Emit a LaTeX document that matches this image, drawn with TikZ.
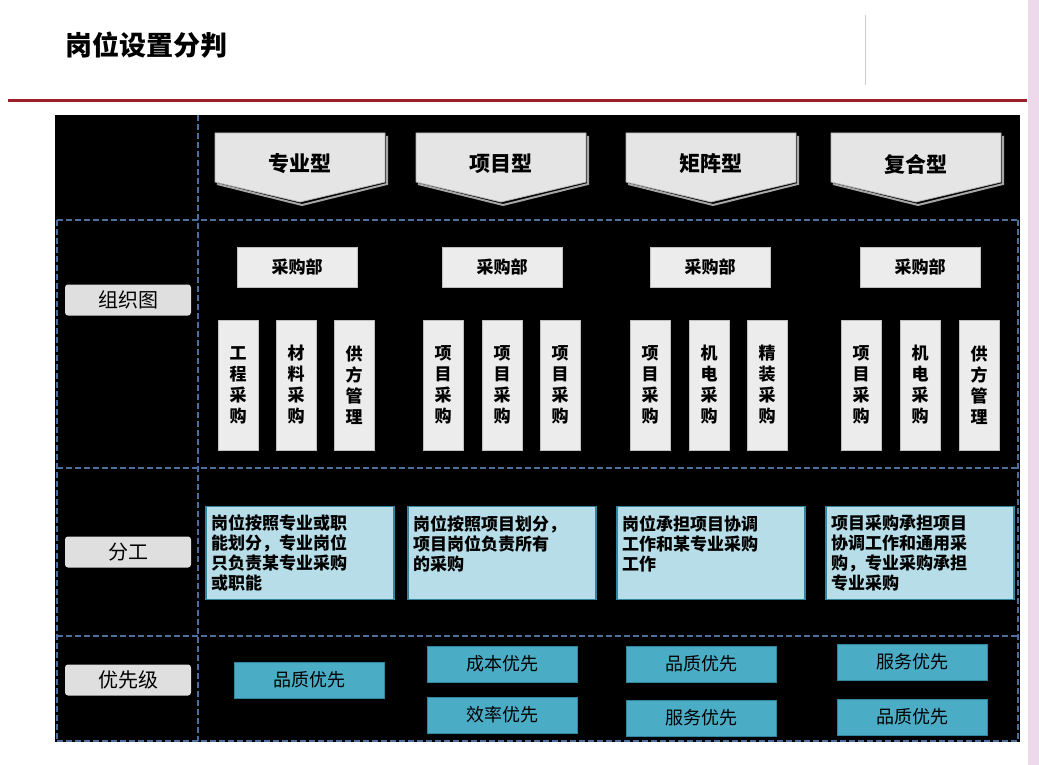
\documentclass[tikz,border=0pt]{standalone}
\usepackage{fontspec}
\setmainfont{Noto Sans CJK SC}
\newcommand\cjkb{\bfseries}
\definecolor{redline}{RGB}{160,30,40}
\definecolor{taskfill}{RGB}{183,222,232}
\definecolor{tealdark}{RGB}{49,133,156}
\definecolor{prioful}{RGB}{75,172,198}
\definecolor{dashc}{RGB}{79,110,160}
\begin{document}
\begin{tikzpicture}[x=1pt,y=-1pt,
  dashln/.style={draw=dashc, line width=1.6pt, dash pattern=on 6pt off 3pt},
  hdr/.style={fill=gray!20, draw=gray!60, line width=0.8pt},
  dept/.style={fill=gray!15, draw=gray!50, minimum width=120pt, minimum height=40pt, inner sep=0pt, font=\cjkb\fontsize{17}{17}\selectfont},
  vbox/.style={fill=gray!15, draw=gray!50, minimum width=40pt, minimum height=130pt, inner sep=0pt, align=center, font=\cjkb\fontsize{17}{21}\selectfont},
  lbl/.style={fill=gray!25, rounded corners=3pt, minimum width=126pt, minimum height=31pt, inner sep=0pt, font=\fontsize{20}{20}\selectfont},
  task/.style={fill=taskfill, draw=tealdark, line width=1.2pt, minimum width=188pt, minimum height=93pt, inner sep=4pt, align=left, text width=178pt, font=\cjkb\fontsize{17}{20}\selectfont},
  prio/.style={fill=prioful, draw=tealdark, line width=1pt, minimum width=150pt, minimum height=36pt, inner sep=0pt, font=\fontsize{18}{18}\selectfont}]
\useasboundingbox (0,0) rectangle (1039,765);
\fill[white] (0,0) rectangle (1039,765);
\fill[violet!15] (1028,0) rectangle (1039,765);
\node[anchor=west, font=\cjkb\fontsize{27}{27}\selectfont] (title) at (62,45) {岗位设置分判};
\draw[gray!40, line width=1pt] (865,15) -- (865,85);
\draw[redline, line width=3pt] (8,101) -- (1027,101);
\fill[black] (55,115) rectangle (1020,742);
% dashed grid
\draw[dashln] (198,115) -- (198,741);
\draw[dashln] (57,220) -- (1018,220);
\draw[dashln] (57,468) -- (1018,468);
\draw[dashln] (57,636) -- (1018,636);
\draw[dashln] (57,741) -- (1018,741);
\draw[dashln] (57,220) -- (57,741);
\draw[dashln] (1018,220) -- (1018,741);
% headers
\foreach \cx/\t/\n in {300/专业型/h1, 501/项目型/h2, 711/矩阵型/h3, 916/复合型/h4}{
  \draw[gray!70, line width=2pt] (\cx-83,184) -- (\cx+2,205) -- (\cx+87,184) -- (\cx+87,136);
  \draw[hdr] (\cx-85,133) -- (\cx+85,133) -- (\cx+85,182) -- (\cx,202) -- (\cx-85,182) -- cycle;
  \node[font=\cjkb\fontsize{21}{21}\selectfont] (\n) at (\cx,164) {\t};
}
% depts
\foreach \cx/\n in {297/d1, 502/d2, 710/d3, 920/d4}{
  \node[dept] (\n) at (\cx,267) {采购部};
}
% vertical boxes
\foreach \cx/\t/\n in {238/{工\\程\\采\\购}/v1, 296/{材\\料\\采\\购}/v2, 354/{供\\方\\管\\理}/v3,
  443/{项\\目\\采\\购}/v4, 502/{项\\目\\采\\购}/v5, 560/{项\\目\\采\\购}/v6,
  650/{项\\目\\采\\购}/v7, 709/{机\\电\\采\\购}/v8, 767/{精\\装\\采\\购}/v9,
  861/{项\\目\\采\\购}/v10, 920/{机\\电\\采\\购}/v11, 979/{供\\方\\管\\理}/v12}{
  \node[vbox] (\n) at (\cx,385) {\t};
}
% left labels
\node[lbl] (l1) at (128,300) {组织图};
\node[lbl] (l2) at (128,552) {分工};
\node[lbl] (l3) at (128,680) {优先级};
% tasks
\node[task] (t1) at (300,553) {岗位按照专业或职\\能划分，专业岗位\\只负责某专业采购\\或职能};
\node[task] (t2) at (502,553) {岗位按照项目划分，\\项目岗位负责所有\\的采购\\\mbox{}};
\node[task] (t3) at (711,553) {岗位承担项目协调\\工作和某专业采购\\工作\\\mbox{}};
\node[task] (t4) at (920,553) {项目采购承担项目\\协调工作和通用采\\购，专业采购承担\\专业采购};
% priorities
\node[prio] (p1) at (309,680) {品质优先};
\node[prio] (p2) at (502,664) {成本优先};
\node[prio] (p3) at (502,715) {效率优先};
\node[prio] (p4) at (701,664) {品质优先};
\node[prio] (p5) at (701,718) {服务优先};
\node[prio] (p6) at (912,662) {服务优先};
\node[prio] (p7) at (912,717) {品质优先};
\end{tikzpicture}
\end{document}
